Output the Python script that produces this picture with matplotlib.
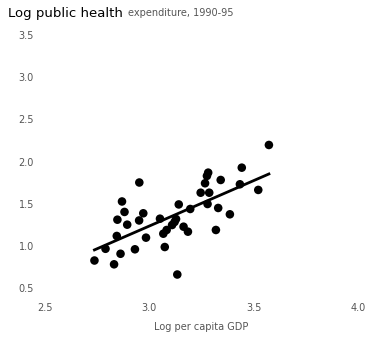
import numpy as np
import matplotlib.pyplot as plt

# log per capita GDP vs log public health expenditure
gdp = [3.573, 3.443, 3.282, 3.276, 3.342, 2.952, 3.267, 3.434, 3.522, 3.246,
       3.287, 2.869, 3.279, 3.141, 3.330, 2.881, 2.971, 3.196, 3.386, 2.847,
       2.951, 3.051, 3.128, 3.109, 3.121, 2.894, 3.164, 3.185, 3.083, 3.067,
       3.319, 2.844, 2.984, 3.074, 2.931, 2.790, 2.862, 2.737, 2.831, 3.134]
health = [2.196, 1.927, 1.868, 1.829, 1.781, 1.751, 1.742, 1.730, 1.663, 1.630,
          1.630, 1.526, 1.496, 1.491, 1.449, 1.402, 1.386, 1.437, 1.374, 1.310,
          1.301, 1.322, 1.318, 1.247, 1.283, 1.251, 1.227, 1.168, 1.188, 1.144,
          1.188, 1.117, 1.097, 0.986, 0.959, 0.965, 0.906, 0.826, 0.781, 0.660]
xticks = [2.5, 3.0, 3.5, 4.0]
yticks = [0.5, 1.0, 1.5, 2.0, 2.5, 3.0, 3.5]

x = np.array(gdp)
y = np.array(health)
b, a = np.polyfit(x, y, 1)          # simple least squares line
xs = np.array([x.min(), x.max()])

fig = plt.figure(figsize=(3.7, 3.48), dpi=100)
ax = fig.add_axes([0.1216, 0.1724, 0.846, 0.727])
ax.scatter(x, y, s=38, c='black', edgecolors='none', zorder=3)
ax.plot(xs, a + b * xs, color='black', lw=2.0, zorder=2)

ax.set_xlim(2.5, 4.0)
ax.set_ylim(0.5, 3.5)
ax.set_xticks(xticks)
ax.set_yticks(yticks)
ax.set_xticklabels([f'{v:.1f}' for v in xticks], fontsize=7, color='#555555')
ax.set_yticklabels([f'{v:.1f}' for v in yticks], fontsize=7, color='#555555')
ax.tick_params(axis='y', length=0, pad=8)
ax.tick_params(axis='x', length=0, pad=11)
for s in ax.spines.values():
    s.set_visible(False)

ax.set_xlabel('Log per capita GDP', fontsize=7, color='#555555', labelpad=6)
fig.text(0.022, 0.962, 'Log public health', fontsize=9.5, va='center')
fig.text(0.345, 0.962, 'expenditure, 1990-95', fontsize=7, color='#555555', va='center')

fig.savefig('out.png')
